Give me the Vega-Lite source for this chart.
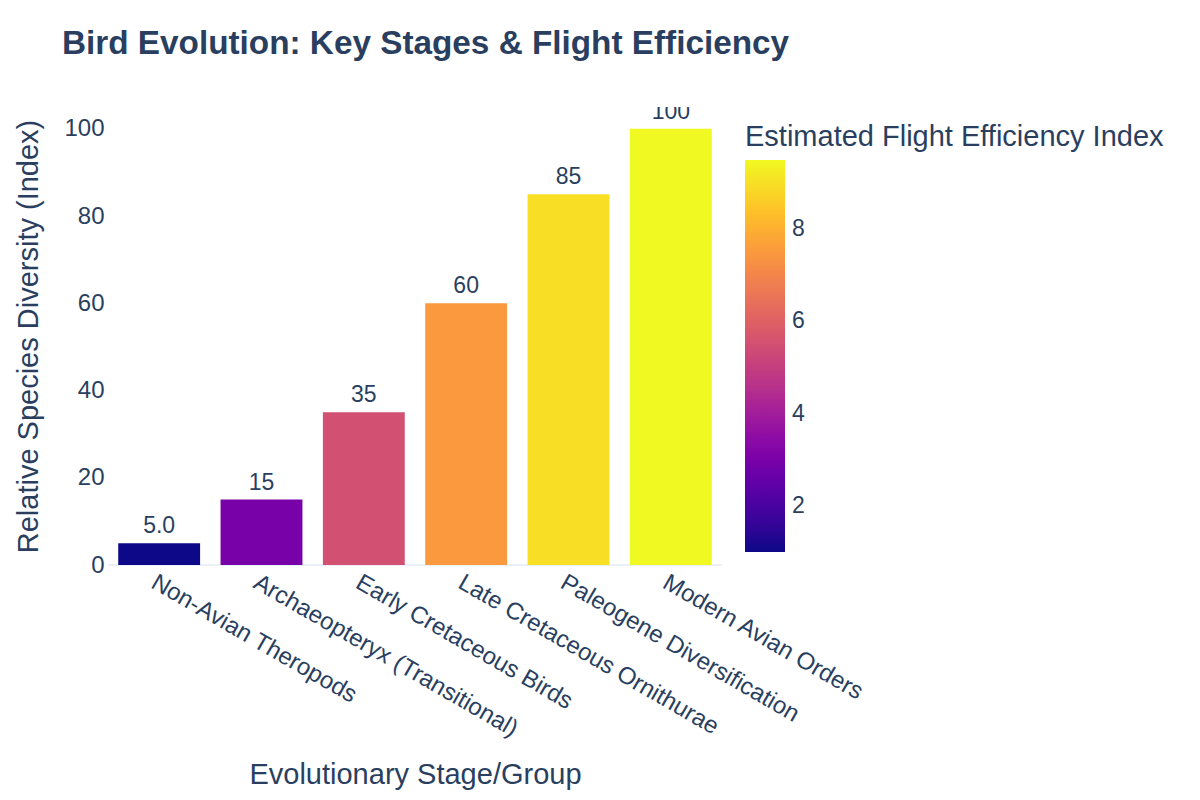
{
  "$schema": "https://vega.github.io/schema/vega-lite/v6.json",
  "width": 614,
  "height": 458,
  "autosize": {"type": "none"},
  "padding": {"left": 108, "top": 107, "right": 478, "bottom": 235},
  "background": "white",
  "config": {
    "font": "Liberation Sans",
    "view": {"stroke": null},
    "axis": {
      "labelColor": "#2a3f5f",
      "titleColor": "#2a3f5f",
      "labelFontSize": 24,
      "titleFontSize": 29,
      "titleFontWeight": "normal",
      "domain": false,
      "ticks": false,
      "gridColor": "#ebf0f8",
      "gridWidth": 1
    },
    "legend": {
      "labelColor": "#2a3f5f",
      "titleColor": "#2a3f5f",
      "labelFontSize": 23,
      "titleFontSize": 29,
      "titleFontWeight": "normal",
      "padding": 0
    }
  },
  "title": {
    "text": "Bird Evolution: Key Stages & Flight Efficiency",
    "anchor": "start",
    "frame": "group",
    "fontSize": 33.3,
    "fontWeight": "bold",
    "color": "#2a3f5f",
    "dx": -46,
    "dy": -46,
    "offset": 0
  },
  "data": {
    "values": [
      {"stage": "Non-Avian Theropods", "diversity": 5, "efficiency": 1},
      {"stage": "Archaeopteryx (Transitional)", "diversity": 15, "efficiency": 3},
      {"stage": "Early Cretaceous Birds", "diversity": 35, "efficiency": 5.5},
      {"stage": "Late Cretaceous Ornithurae", "diversity": 60, "efficiency": 7.5},
      {"stage": "Paleogene Diversification", "diversity": 85, "efficiency": 9},
      {"stage": "Modern Avian Orders", "diversity": 100, "efficiency": 9.5}
    ]
  },
  "transform": [
    {"calculate": "datum.diversity < 10 ? format(datum.diversity, '.1f') : format(datum.diversity, 'd')", "as": "label"}
  ],
  "layer": [
    {
      "mark": {"type": "rule", "color": "#ebf0f8", "strokeWidth": 2},
      "encoding": {
        "y": {"datum": 0, "type": "quantitative"}
      }
    },
    {
      "mark": {"type": "bar"},
      "encoding": {
        "x": {
          "field": "stage",
          "type": "nominal",
          "sort": null,
          "scale": {"paddingInner": 0.2, "paddingOuter": 0.1},
          "axis": {
            "title": "Evolutionary Stage/Group",
            "labelAngle": 30,
            "labelAlign": "left",
            "labelBaseline": "top",
            "labelPadding": 5,
            "labelLimit": 0,
            "grid": false,
            "titleY": 218,
            "titleBaseline": "alphabetic"
          }
        },
        "y": {
          "field": "diversity",
          "type": "quantitative",
          "scale": {"domain": [0, 105], "nice": false},
          "axis": {
            "title": "Relative Species Diversity (Index)",
            "values": [0, 20, 40, 60, 80, 100],
            "labelPadding": 4,
            "titleX": -80,
            "titleY": 229,
            "titleAngle": -90,
            "titleBaseline": "middle",
            "titleAlign": "center"
          }
        },
        "color": {
          "field": "efficiency",
          "type": "quantitative",
          "scale": {"scheme": "plasma", "domain": [1, 9.5], "nice": false, "zero": false},
          "legend": {
            "title": "Estimated Flight Efficiency Index",
            "orient": "none",
            "legendX": 637,
            "legendY": 16,
            "direction": "vertical",
            "gradientLength": 392,
            "gradientThickness": 40,
            "gradientStrokeWidth": 0,
            "labelOffset": 7,
            "labelOverlap": false,
            "values": [2, 4, 6, 8],
            "titlePadding": 8,
            "titleLimit": 0
          }
        }
      }
    },
    {
      "mark": {"type": "text", "fontSize": 23, "color": "#2a3f5f", "baseline": "alphabetic", "dy": -10, "clip": true},
      "encoding": {
        "x": {"field": "stage", "type": "nominal", "sort": null},
        "y": {"field": "diversity", "type": "quantitative"},
        "text": {"field": "label"}
      }
    }
  ]
}
